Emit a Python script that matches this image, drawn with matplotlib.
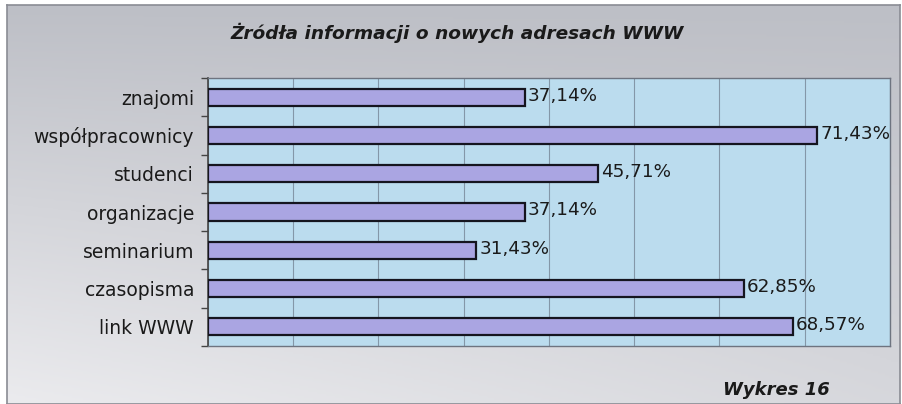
import numpy as np
import matplotlib
matplotlib.use("Agg")
import matplotlib.pyplot as plt
from matplotlib.colors import LinearSegmentedColormap

# dane
kategorie = ["znajomi", "współpracownicy", "studenci", "organizacje",
             "seminarium", "czasopisma", "link WWW"]
wartosci = [37.14, 71.43, 45.71, 37.14, 31.43, 62.85, 68.57]
etykiety = ["37,14%", "71,43%", "45,71%", "37,14%", "31,43%", "62,85%", "68,57%"]
tytul = "Żródła informacji o nowych adresach WWW"
podpis = "Wykres 16"

plt.rcParams['font.family'] = ['DejaVu Sans']

fig = plt.figure(figsize=(9.03, 4.04), dpi=100)
fig.patch.set_facecolor("white")

# tlo z gradientem (szary)
bg = fig.add_axes([7/903, 0, 893/903, 399/404])
yy, xx = np.mgrid[0:1:200j, 0:1:400j]
grad = 0.5 * yy + 0.4 * (1 - xx) * yy
cmap_bg = LinearSegmentedColormap.from_list("bg", ["#bdbfc6", "#ebebee"])
bg.imshow(grad, cmap=cmap_bg, aspect="auto", extent=[0, 1, 0, 1], origin="upper")
bg.set_xticks([])
bg.set_yticks([])
for s in bg.spines.values():
    s.set_color("#8a8c94")
    s.set_linewidth(1.2)

ax = fig.add_axes([208/903, 58/404, 682/903, 268/404])
ax.set_facecolor("#bbdcee")
y = np.arange(len(kategorie))
ax.barh(y, wartosci, height=0.45, color="#aaa5e2", edgecolor="#15151f", linewidth=1.6, zorder=3)
for yi, v, t in zip(y, wartosci, etykiety):
    ax.text(v + 0.4, yi - 0.04, t, va="center", ha="left", fontsize=13.2, color="#1a1a1a", zorder=4)

ax.set_xlim(0, 80)
ax.set_ylim(len(kategorie) - 0.5, -0.5)
ax.set_xticks(np.arange(0, 81, 10))
ax.tick_params(axis="x", length=0, labelbottom=False)
ax.xaxis.grid(True, color="#8497a8", linewidth=0.8)
ax.set_yticks(y)
ax.set_yticklabels(kategorie, fontsize=13.5, color="#1a1a1a")
ax.tick_params(axis="y", which="major", length=0, pad=10)
ax.set_yticks(np.arange(-0.5, len(kategorie)), minor=True)
ax.tick_params(axis="y", which="minor", length=5, color="#444444", width=1)
for s in ["top", "right", "bottom"]:
    ax.spines[s].set_color("#6e7480")
    ax.spines[s].set_linewidth(1)
ax.spines["left"].set_color("#444444")
ax.spines["left"].set_linewidth(1.2)

fig.text(457/903, 1 - 33/404, tytul, ha="center", va="center", fontsize=13.3,
         fontweight="bold", fontstyle="italic", color="#1a1a1a")
fig.text(723/903, 1 - 390/404, podpis, ha="left", va="center", fontsize=13,
         fontweight="bold", fontstyle="italic", color="#1a1a1a")

fig.savefig("out.png", dpi=100)
